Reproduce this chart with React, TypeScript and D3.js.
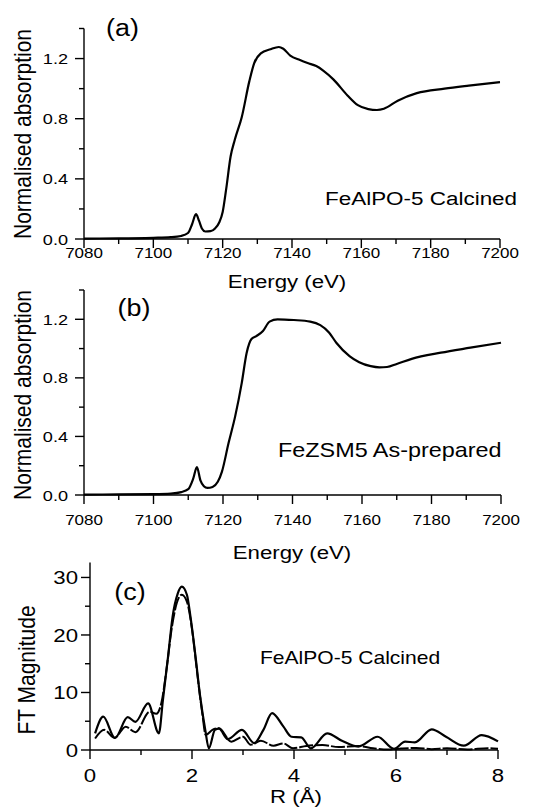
import React from 'react';
import * as d3 from 'd3';

const W = 535;
const H = 807;
const SX = 1.17; // the original figure is stretched sideways, text included
const FONT = "'Liberation Sans', Arial, Helvetica, sans-serif";

// (a) FeAlPO-5 calcined, Fe K-edge XANES
const energyA = [7080, 7090, 7100, 7105, 7108, 7110, 7111.2, 7112.3, 7113.2, 7114,
  7115, 7116.5, 7117.8, 7119, 7120, 7121, 7122.3, 7123.5, 7125.5, 7127.7,
  7129.1, 7131, 7133.8, 7136.2, 7137.5, 7139.5, 7142.3, 7144.5, 7147, 7149,
  7152, 7156, 7159, 7162, 7164.5, 7166.5, 7170.5, 7176, 7184, 7191, 7200];
const absA = [0.003, 0.004, 0.008, 0.012, 0.02, 0.04, 0.10, 0.165, 0.12, 0.07,
  0.05, 0.052, 0.07, 0.11, 0.18, 0.33, 0.55, 0.66, 0.81, 1.05,
  1.17, 1.235, 1.262, 1.277, 1.265, 1.22, 1.19, 1.17, 1.15, 1.12,
  1.06, 0.955, 0.89, 0.864, 0.858, 0.866, 0.92, 0.97, 1.0, 1.02, 1.043];

// (b) FeZSM5 as-prepared
const energyB = [7080, 7090, 7100, 7105, 7108, 7110, 7111.4, 7112.5, 7113.5, 7114.5,
  7115.5, 7117, 7118.5, 7119.7, 7121.6, 7123.5, 7125.4, 7126.8, 7128.2, 7129.6,
  7131.5, 7133.4, 7135.7, 7140.4, 7145.1, 7148, 7150.5, 7152.6, 7156.4, 7159.2,
  7162.5, 7165, 7167.2, 7170, 7174.3, 7182.7, 7191.2, 7200];
const absB = [0.003, 0.004, 0.006, 0.01, 0.02, 0.04, 0.11, 0.19, 0.10, 0.06,
  0.048, 0.055, 0.09, 0.16, 0.355, 0.537, 0.766, 0.97, 1.066, 1.085,
  1.12, 1.184, 1.2, 1.195, 1.184, 1.16, 1.11, 1.04, 0.949, 0.907,
  0.88, 0.872, 0.874, 0.895, 0.93, 0.972, 1.006, 1.04];

// (c) FT magnitude, experiment (solid) and fit (dashed)
const rExp = [0.1, 0.26, 0.49, 0.74, 0.89, 1.14, 1.35, 1.43, 1.53, 1.62,
  1.72, 1.80, 1.90, 1.97, 2.07, 2.16, 2.26, 2.33, 2.45, 2.53,
  2.70, 2.98, 3.22, 3.40, 3.57, 3.79, 3.95, 4.14, 4.33, 4.65,
  4.94, 5.26, 5.64, 5.96, 6.18, 6.37, 6.70, 6.98, 7.33, 7.68, 8.0];
const ftExp = [2.9, 5.8, 2.1, 5.7, 4.9, 8.1, 2.9, 8.7, 16.2, 23.2,
  27.2, 28.4, 27.0, 23.2, 16.2, 9.3, 3.5, 0.3, 3.5, 3.7,
  1.9, 3.5, 1.2, 3.5, 6.4, 4.1, 2.3, 2.2, 0.3, 2.9,
  1.6, 0.6, 2.3, 0.2, 1.45, 1.33, 3.6, 2.3, 0.75, 2.6, 1.5];
const rFit = [0.1, 0.28, 0.48, 0.70, 0.89, 1.17, 1.30, 1.40, 1.50, 1.60,
  1.70, 1.80, 1.90, 2.00, 2.10, 2.20, 2.27, 2.40, 2.53, 2.77,
  3.00, 3.15, 3.35, 3.60, 3.79, 3.98, 4.24, 4.56, 4.88, 5.26,
  5.55, 5.85, 6.1, 6.4, 6.7, 7.0, 7.4, 7.8, 8.0];
const ftFit = [2.0, 3.5, 2.1, 4.05, 3.1, 6.65, 6.3, 8.2, 14, 21,
  25.5, 27, 25.8, 21, 13.5, 6.5, 2.6, 3.5, 3.8, 1.45,
  2.3, 0.9, 1.6, 0.75, 1.15, 0.3, 0.7, 0.87, 0.5, 0.7,
  0.3, 0.1, 0.25, 0.35, 0.15, 0.3, 0.1, 0.3, 0.2];

const energyMajor = [7080, 7100, 7120, 7140, 7160, 7180, 7200];
const energyMinor = [7090, 7110, 7130, 7150, 7170, 7190];
const absMajor = [0, 0.4, 0.8, 1.2];
const absMinor = [0.2, 0.6, 1.0, 1.4];
const rMajor = [0, 2, 4, 6, 8];
const rMinor = [1, 3, 5, 7];
const ftMajor = [0, 10, 20, 30];
const ftMinor = [5, 15, 25];

function Txt({ x, y, size, anchor = 'start', rot = false, children }: any) {
  return (
    <g transform={`translate(${x},${y}) scale(${SX},1)${rot ? ' rotate(-90)' : ''}`}>
      <text fontSize={size} textAnchor={anchor} fontFamily={FONT} fill="#000">{children}</text>
    </g>
  );
}

function Axes({ xs, ys, xMajor, xMinor, yMajor, yMinor, xFmt, yFmt, xSize, ySize, xLabelBase, yLabelEnd }: any) {
  const [x0, x1] = xs.range();
  const [y0, y1] = ys.range();
  return (
    <g stroke="#000" strokeWidth={1.4}>
      <line x1={x0} x2={x1} y1={y0} y2={y0} />
      <line x1={x0} x2={x0} y1={y0} y2={y1} />
      {xMajor.map((v: number) => <line key={'xm' + v} x1={xs(v)} x2={xs(v)} y1={y0} y2={y0 + 9} />)}
      {xMinor.map((v: number) => <line key={'xn' + v} x1={xs(v)} x2={xs(v)} y1={y0} y2={y0 + 5} />)}
      {yMajor.map((v: number) => <line key={'ym' + v} x1={x0 - 9} x2={x0} y1={ys(v)} y2={ys(v)} />)}
      {yMinor.map((v: number) => <line key={'yn' + v} x1={x0 - 5} x2={x0} y1={ys(v)} y2={ys(v)} />)}
      <g stroke="none">
        {xMajor.map((v: number) => (
          <Txt key={'xl' + v} x={xs(v)} y={xLabelBase} size={xSize} anchor="middle">{xFmt(v)}</Txt>
        ))}
        {yMajor.map((v: number) => (
          <Txt key={'yl' + v} x={yLabelEnd} y={ys(v) + ySize * 0.36} size={ySize} anchor="end">{yFmt(v)}</Txt>
        ))}
      </g>
    </g>
  );
}

export default function App() {
  const xA = d3.scaleLinear().domain([7080, 7200]).range([84, 500]);
  const yA = d3.scaleLinear().domain([0, 1.4]).range([239, 28.5]);
  const xB = d3.scaleLinear().domain([7080, 7200]).range([84, 501]);
  const yB = d3.scaleLinear().domain([0, 1.4]).range([495, 290]);
  const xC = d3.scaleLinear().domain([0, 8]).range([90, 498]);
  const yC = d3.scaleLinear().domain([0, 32.6]).range([750, 562.5]);

  const mk = (xs: any, ys: any) =>
    d3.line<[number, number]>().x(d => xs(d[0])).y(d => ys(d[1])).curve(d3.curveMonotoneX);

  const fmtAbs = d3.format('.1f');
  const fmtInt = d3.format('d');

  return (
    <svg width={W} height={H} style={{ position: 'absolute', left: 0, top: 0, background: '#fff' }}>
      <rect width={W} height={H} fill="#fff" />

      {/* (a) */}
      <Axes xs={xA} ys={yA} xMajor={energyMajor} xMinor={energyMinor} yMajor={absMajor} yMinor={absMinor}
        xFmt={fmtInt} yFmt={fmtAbs} xSize={14.5} ySize={15.5} xLabelBase={258} yLabelEnd={68} />
      <path d={mk(xA, yA)(d3.zip(energyA, absA) as any) || ''} fill="none" stroke="#000" strokeWidth={2.2} />
      <Txt x={122.5} y={36} size={23} anchor="middle">(a)</Txt>
      <Txt x={325} y={205} size={19.2}>FeAlPO-5 Calcined</Txt>
      <Txt x={287} y={288} size={19} anchor="middle">Energy (eV)</Txt>
      <Txt x={31} y={134} size={21} anchor="middle" rot>Normalised absorption</Txt>

      {/* (b) */}
      <Axes xs={xB} ys={yB} xMajor={energyMajor} xMinor={energyMinor} yMajor={absMajor} yMinor={absMinor}
        xFmt={fmtInt} yFmt={fmtAbs} xSize={14.5} ySize={15.5} xLabelBase={525} yLabelEnd={68} />
      <path d={mk(xB, yB)(d3.zip(energyB, absB) as any) || ''} fill="none" stroke="#000" strokeWidth={2.2} />
      <Txt x={134} y={316} size={23} anchor="middle">(b)</Txt>
      <Txt x={278} y={457} size={20}>FeZSM5 As-prepared</Txt>
      <Txt x={292} y={559} size={19} anchor="middle">Energy (eV)</Txt>
      <Txt x={31} y={395} size={21} anchor="middle" rot>Normalised absorption</Txt>

      {/* (c) */}
      <Axes xs={xC} ys={yC} xMajor={rMajor} xMinor={rMinor} yMajor={ftMajor} yMinor={ftMinor}
        xFmt={fmtInt} yFmt={fmtInt} xSize={19} ySize={19} xLabelBase={782} yLabelEnd={78} />
      <path d={mk(xC, yC)(d3.zip(rFit, ftFit) as any) || ''} fill="none" stroke="#000" strokeWidth={2}
        strokeDasharray="14,2" />
      <path d={mk(xC, yC)(d3.zip(rExp, ftExp) as any) || ''} fill="none" stroke="#000" strokeWidth={2.2} />
      <Txt x={130} y={600} size={23} anchor="middle">(c)</Txt>
      <Txt x={260} y={664} size={18}>FeAlPO-5 Calcined</Txt>
      <Txt x={296} y={803} size={19} anchor="middle">R (Å)</Txt>
      <Txt x={35} y={670} size={21} anchor="middle" rot>FT Magnitude</Txt>
    </svg>
  );
}
